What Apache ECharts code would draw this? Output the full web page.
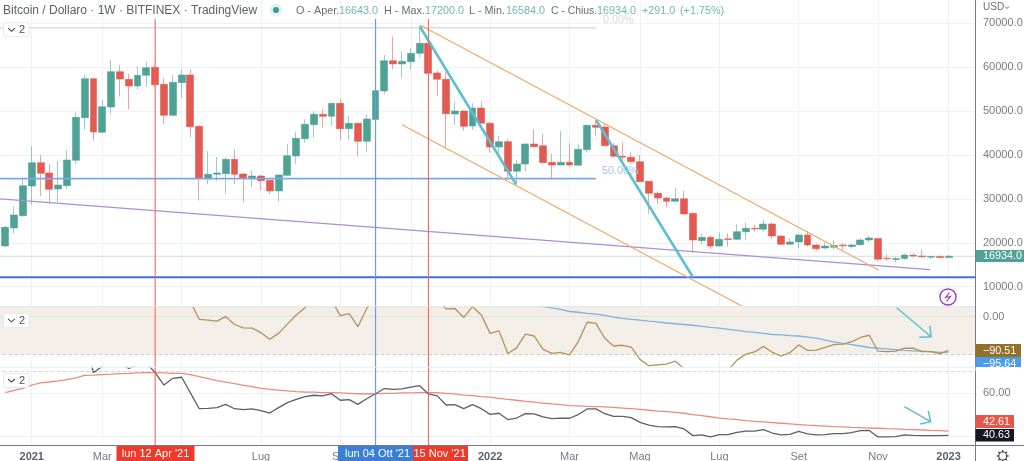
<!DOCTYPE html>
<html lang="it">
<head>
    <meta charset="UTF-8">
    <title>Bitcoin / Dollaro</title>
    <style>
        html, body { margin: 0; padding: 0; background: #fff; }
        #myChart { width: 1024px; height: 461px; }
    </style>
</head>
<body>
    <div id="myChart"></div>
</body>
<script src="https://cdn.jsdelivr.net/npm/echarts@6/dist/echarts.min.js"></script>
<script>
    // weekly candles, week 0 = 14 Dec 2020, week 107 = 2 Jan 2023
    const opens = [
      19271,23371,26181,32939,38254,35900,32255,33014,38785,48504,
      57388,45163,50934,58982,57236,55718,58147,59969,56100,49036,
      56480,58223,46530,34609,35596,35748,39013,35672,34685,35216,
      34228,31800,35368,39772,43720,46910,49264,48808,51770,45999,
      47214,43113,48100,54580,61489,60730,61260,63158,65436,58700,
      57236,49340,50024,46606,50706,47214,41822,43037,36278,37950,
      42506,42100,38330,37724,38330,37650,41200,46758,46360,42126,
      39700,39500,38480,34000,31270,30200,29450,30060,26712,20486,
      21245,19271,20900,20790,22536,23295,23100,24282,21549,19650,
      20183,21777,19500,18815,19000,19500,19150,19575,20638,21000,
      16500,16200,16400,17150,17000,16700,16900,16643];
    const closes = [
      23523,26333,33014,38254,35824,32180,33166,38860,48580,57388,
      45240,51010,58982,57312,55718,58147,59893,56022,49036,56553,
      58223,46454,34609,35596,35900,39013,35596,34685,35216,34153,
      31800,35444,39848,43796,46985,49264,48808,51770,45999,47214,
      43113,48200,54654,61489,60730,61337,63158,65436,58600,57236,
      49400,50024,46530,50706,47214,41822,43037,36278,37950,42506,
      41898,38254,37724,38330,37724,41291,46758,46302,42126,39697,
      39500,38480,33925,31270,30200,29450,30060,26560,20638,21245,
      19271,20790,20780,22536,23295,23150,24282,21549,19650,20183,
      21777,19500,18664,19271,19400,19300,19500,20638,21093,16234,
      16350,16400,17220,17000,16800,16900,16650,16934];
    const lows = [
      19100,22156,25953,28610,30660,28990,29218,32331,37950,45695,
      43265,45000,49400,53288,50403,54957,55566,55500,47062,48950,
      53060,44025,29598,33395,34153,31117,33395,29218,32787,32027,
      31117,29370,35200,37965,42810,43948,46302,46606,43400,43400,
      39697,40760,47900,53900,59513,57616,59513,62250,58500,53440,
      41640,46834,45545,45695,47100,40533,39963,34609,33200,36250,
      41800,38100,34685,37700,37350,37600,40533,44328,41900,39400,
      38725,37965,33800,26650,28830,28080,29200,26500,17750,19727,
      18664,19100,19120,20600,20638,22536,22536,20790,19500,19500,
      18740,19100,18200,18512,18450,18200,18700,19300,20183,15700,
      15850,15550,16100,16600,16550,16300,16450,16584];
    const highs = [
      23800,28232,34913,42050,40000,37950,38633,40988,49643,58223,
      57600,52528,61640,60500,58527,60120,61185,60100,57464,58223,
      59513,59513,46758,40911,39544,39393,41291,35800,36583,35450,
      34300,35500,42430,45163,48125,49871,50554,51900,52832,48883,
      47300,49264,55000,62780,66954,63540,64297,69386,65600,59210,
      58982,51998,50100,51770,52073,47594,44328,43568,38860,42600,
      45846,44782,40229,45467,42657,42430,46900,47974,47062,42700,
      42885,40533,40000,34100,31650,30500,32480,31800,26900,22005,
      21625,22384,22156,24207,24586,24055,25193,24735,21650,21017,
      21900,22764,19800,20030,20486,19850,19700,21017,21549,21100,
      17300,16800,17500,17600,18500,17000,17050,17200];

    // brown oscillator and its blue signal (first 60 weeks of the signal are off the pane)
    const oscBrown = [
      80,100,130,140,90,60,55,70,110,150,
      100,110,120,100,75,80,90,80,50,70,
      85,40,-7,-9,-12,0,-21,-30,-31,-43,
      -61,-45,-20,4.5,24,50,50,45,3,8,
      -27,22,54,80,90,85,80,72,63,45,
      21,22,-2,27,4.5,-45,-38,-99,-84,-47,
      -52,-88,-99,-96,-103,-67,-15,-18,-58,-79,
      -77,-82,-115,-132,-130,-128,-120,-140,-170,-157,
      -180,-166,-144,-117,-101,-95,-80,-96,-106,-97,
      -76,-91,-90,-83,-75,-74,-68,-56,-50,-93,
      -94,-93,-85,-85,-94,-94,-100,-90.51];
    const oscBlue = [
      32,28,24,20,14,12,9,7,3.6,-1,
      -4.5,-7,-9,-12,-14,-17,-19,-21,-23,-26,
      -29,-31,-34,-37,-40,-42,-45,-48,-49,-51,
      -52,-55,-58,-63,-68,-72,-75,-79,-83,-85,
      -87,-89,-91,-92,-93,-94,-96,-95.64];
    const oscBlueStart = 60;

    // lower pane
    const rsiBlack = [
      74,76,80,85,78,73,74,76,84,84,
      69.5,72.5,76,74,71.5,73,74,69.5,63.8,66.9,
      67.4,60.2,52.9,53.1,53.4,54.9,52.9,52.5,52.8,52,
      50.9,53.4,55.7,57.2,58.5,59.1,58.8,59.8,56.8,57.1,
      54.9,57.5,59.8,62.2,61.8,62,62.8,63.5,59.7,58.8,
      54.6,54.8,52.9,54.8,52.9,50.3,50.8,47.9,48.6,50.6,
      50.5,49.1,48.3,48.6,48.5,50.2,52.8,52.8,50.6,49.4,
      49.4,48.8,46.6,45.3,44.6,44.5,44.6,43.6,40.5,40.8,
      39.9,41,41,42,42.6,42.6,43.3,41.7,40.8,41.1,
      42.5,41.3,40.8,41,41.4,41.4,41.9,42.8,42.9,39.9,
      39.9,40,40.8,40.6,40.5,40.5,40.5,40.63];
    const rsiRed = [
      60.3,61.4,62.3,63.8,64.8,65.2,65.7,66.3,67.1,68.3,
      68.4,68.6,68.8,69.1,69.2,69.4,69.5,69.5,69.4,69.2,
      69.2,68.6,67.7,66.8,65.8,65.1,64.5,63.7,63.1,62.3,
      61.8,61.5,61.1,60.8,60.6,60.5,60.3,60.3,60.2,60,
      59.8,59.8,59.8,60,60,60.2,60.2,60.3,60.3,60.3,
      60,59.7,59.2,58.9,58.5,58.2,57.7,57.2,56.8,56.3,
      55.9,55.5,55.1,54.8,54.3,54.2,54,53.9,53.7,53.5,
      53.2,52.9,52.6,52.2,51.8,51.6,51.2,50.8,50.2,49.7,
      49.2,48.6,48.2,47.9,47.4,47.1,46.8,46.5,46.2,45.9,
      45.6,45.3,45.1,44.9,44.6,44.5,44.3,44.2,44,43.9,
      43.7,43.6,43.4,43.3,43.1,42.9,42.8,42.61];

    // time axis
    const tickWeeks = [3, 11, 20, 29, 38, 46, 55, 64, 72, 81, 90, 99, 107];
    const tickNames = ['2021','Mar','Mag','Lug','Set','Nov','2022','Mar','Mag','Lug','Set','Nov','2023'];
    const priceTicks = [10000, 20000, 30000, 40000, 50000, 60000, 70000];
    const oscTicks = [0];
    const rsiTicks = [40, 60];

    // drawings, [week, price]
    const thickA = [[47.04, 69226], [57.93, 33326]];
    const thickB = [[67.01, 47973], [78.01, 12141]];
    const channelUpper = [[47.04, 69613], [99.04, 13804]];
    const channelLower = [[45, 46902], [83.54, 5604]];
    const purpleLine = [[-1, 30050], [104.9, 13872]];
    const fibTop = [[-1, 69000], [67, 69000]];
    const fibMid = [[-1, 34600], [67, 34600]];
    const supportLine = [[-1, 12140], [110, 12140]];
    const lastLine = [[-1, 16934], [110, 16934]];
    const vlinesRed = [17, 48];
    const vlinesBlue = [42];

    const FONT = '"Liberation Sans", Arial, sans-serif';
    const GRID_C = '#eef2f6';
    const AXIS_C = '#787b86';
    const TEAL = '#5dbfd0';

    let categories = [];
    for (let i = -1; i <= 110; i++) categories.push(String(i));
    const isTick = (i) => tickWeeks.indexOf(i - 1) >= 0;

    const candleData = [['-', '-', '-', '-']].concat(opens.map((o, i) => [o, closes[i], lows[i], highs[i]]));
    const pad = (arr) => ['-'].concat(arr);
    let blueFull = pad(new Array(oscBlueStart).fill('-').concat(oscBlue));

    const leftPx = -3.515, rightPx = 49;
    const panes = [
      { top: 0, height: 306.7, min: 5444, max: 75308, ticks: priceTicks, fmt: (v) => v.toFixed(1) },
      { top: 306.7, height: 60.6, min: -136.4, max: 26.95, ticks: oscTicks, fmt: (v) => v.toFixed(2) },
      { top: 367.3, height: 78, min: 36.04, max: 71.98, ticks: rsiTicks, fmt: (v) => v.toFixed(2) }
    ];

    function gridLineSeries(idx, vals) {
      return {
        type: 'line', xAxisIndex: idx, yAxisIndex: idx, data: [], silent: true,
        markLine: {
          silent: true, symbol: 'none', z: 0, animation: false, label: { show: false },
          lineStyle: { color: GRID_C, width: 1, type: 'solid' },
          data: vals.map((v) => ({ yAxis: v }))
        }
      };
    }

    function drawLine(data, color, width, extra) {
      return Object.assign({
        type: 'line', xAxisIndex: 3, yAxisIndex: 0, data: data, symbol: 'none', silent: true, z: 6,
        lineStyle: { color: color, width: width }
      }, extra || {});
    }

    let option = {
      animation: false,
      backgroundColor: '#ffffff',
      textStyle: { fontFamily: FONT },
      grid: panes.map((p) => ({ left: leftPx, right: rightPx, top: p.top, height: p.height, outerBoundsMode: 'none' }))
        .concat([{ left: leftPx, right: rightPx, top: 19, height: 426.3, outerBoundsMode: 'none' }]),
      xAxis: panes.map((p, i) => ({
        type: 'category', gridIndex: i, data: categories, boundaryGap: false,
        axisLine: { show: false }, axisTick: { show: false },
        axisLabel: i < 2 ? { show: false } : {
          show: true, margin: 6, fontSize: 11, fontFamily: FONT, color: AXIS_C,
          interval: (index) => isTick(index),
          formatter: (v, index) => {
            const name = tickNames[tickWeeks.indexOf(index - 1)];
            return /^\d+$/.test(name) ? '{b|' + name + '}' : name;
          },
          rich: { b: { fontWeight: 'bold', fontSize: 11, color: '#5d606b', fontFamily: FONT } }
        },
        splitLine: { show: true, interval: (index) => isTick(index), lineStyle: { color: GRID_C, width: 1 } }
      })).concat([
        { type: 'value', gridIndex: 0, min: -1, max: 110, show: false, splitLine: { show: false } },
        { type: 'value', gridIndex: 3, min: -1, max: 110, show: false, splitLine: { show: false } }
      ]),
      yAxis: panes.map((p, i) => ({
        type: 'value', gridIndex: i, position: 'right', min: p.min, max: p.max, scale: true,
        axisLine: { show: true, onZero: false, lineStyle: { color: AXIS_C, width: 1 } },
        axisTick: { show: false }, splitLine: { show: false },
        axisLabel: {
          show: true, margin: 8, fontSize: 11, fontFamily: FONT, color: AXIS_C,
          customValues: p.ticks, formatter: p.fmt
        }
      })).concat([
        { type: 'value', gridIndex: 3, min: 0, max: 1, show: false, splitLine: { show: false } }
      ]),
      series: [
        gridLineSeries(0, priceTicks),
        {
          type: 'line', xAxisIndex: 1, yAxisIndex: 1, data: [], silent: true,
          markArea: {
            silent: true, z: 0, itemStyle: { color: '#f3efe8' },
            data: [[{ yAxis: -100 }, { yAxis: 26.95 }]]
          },
          markLine: {
            silent: true, symbol: 'none', z: 1, label: { show: false },
            lineStyle: { color: '#e4e1da', width: 1, type: 'solid' },
            data: [{ yAxis: 0 }]
          }
        },
        {
          type: 'line', xAxisIndex: 1, yAxisIndex: 1, data: [], silent: true,
          markLine: {
            silent: true, symbol: 'none', z: 1, label: { show: false },
            lineStyle: { color: '#cfcdc8', width: 1, type: 'dashed' },
            data: [{ yAxis: -100 }]
          }
        },
        gridLineSeries(2, rsiTicks),
        {
          type: 'line', xAxisIndex: 2, yAxisIndex: 2, data: [], silent: true,
          markLine: {
            silent: true, symbol: 'none', z: 1, label: { show: false },
            lineStyle: { color: '#d8d8d8', width: 1, type: 'dashed' },
            data: [{ yAxis: 70 }]
          }
        },
        drawLine(fibTop, '#dddee3', 1.5, { z: 1 }),
        drawLine(lastLine, '#8fc7bc', 1, { z: 1, lineStyle: { color: '#8fc7bc', width: 1, type: 'dotted' } }),
        {
          type: 'candlestick', xAxisIndex: 0, yAxisIndex: 0, data: candleData, barWidth: 7.4, z: 3, silent: true,
          itemStyle: {
            color: '#4fa295', color0: '#e25a50',
            borderColor: 'rgba(79,162,149,0.55)', borderColor0: 'rgba(226,90,80,0.55)', borderWidth: 1
          }
        },
        drawLine(purpleLine, '#a98fd8', 1.3),
        drawLine(fibMid, '#7aa6ee', 1.8),
        drawLine(supportLine, '#3f6fe3', 2),
        drawLine(channelUpper, '#f0aa66', 1.3),
        drawLine(channelLower, '#f0aa66', 1.3),
        drawLine(thickA, TEAL, 2.6),
        drawLine(thickB, TEAL, 2.6),
        {
          type: 'line', xAxisIndex: 1, yAxisIndex: 1, data: blueFull, symbol: 'none', silent: true, z: 4,
          lineStyle: { color: '#7fb2e0', width: 1.3 }, connectNulls: false
        },
        {
          type: 'line', xAxisIndex: 1, yAxisIndex: 1, data: pad(oscBrown), symbol: 'none', silent: true, z: 5,
          lineStyle: { color: '#b3925a', width: 1.3 }
        },
        {
          type: 'line', xAxisIndex: 2, yAxisIndex: 2, data: pad(rsiRed), symbol: 'none', silent: true, z: 4,
          lineStyle: { color: '#f08a80', width: 1.3 }
        },
        {
          type: 'line', xAxisIndex: 2, yAxisIndex: 2, data: pad(rsiBlack), symbol: 'none', silent: true, z: 5,
          lineStyle: { color: '#5c5f66', width: 1.3 }
        }
      ].concat(vlinesRed.map((w) => ({
        type: 'line', xAxisIndex: 4, yAxisIndex: 3, data: [[w, 0], [w, 1]], symbol: 'none', silent: true, z: 7,
        lineStyle: { color: '#ef6a60', width: 1.1 }
      }))).concat(vlinesBlue.map((w) => ({
        type: 'line', xAxisIndex: 4, yAxisIndex: 3, data: [[w, 0], [w, 1]], symbol: 'none', silent: true, z: 7,
        lineStyle: { color: '#6a9ae8', width: 1.2 }
      }))),
      graphic: { elements: buildOverlay() }
    };

    function txt(x, y, s, color, size, extra) {
      return {
        type: 'text', x: x, y: y, z: 110, silent: true,
        style: Object.assign({ text: s, fill: color, fontSize: size, fontFamily: FONT, textVerticalAlign: 'middle' }, extra || {})
      };
    }
    function box(x, y, w, h, fill, extra) {
      return Object.assign({ type: 'rect', z: 100, silent: true, shape: { x: x, y: y, width: w, height: h }, style: { fill: fill } }, extra || {});
    }
    function poly(points, color, width) {
      return { type: 'polyline', z: 100, silent: true, shape: { points: points }, style: { stroke: color, lineWidth: width, fill: null } };
    }
    function button(y) {
      return [
        { type: 'rect', z: 100, silent: true, shape: { x: 3.5, y: y, width: 25.5, height: 14, r: 2 }, style: { fill: '#fff', stroke: '#e6e8ee', lineWidth: 1 } },
        poly([[8, y + 5.5], [11.5, y + 8.5], [15, y + 5.5]], '#4a4d57', 1.1),
        txt(19, y + 7.5, '2', '#4a4d57', 11)
      ];
    }
    function gear(cx, cy) {
      let els = [{ type: 'circle', z: 100, silent: true, shape: { cx: cx, cy: cy, r: 4 }, style: { fill: null, stroke: '#4a4d57', lineWidth: 1.2 } }];
      for (let k = 0; k < 8; k++) {
        const a = k * Math.PI / 4;
        els.push(poly([[cx + 4 * Math.cos(a), cy + 4 * Math.sin(a)], [cx + 6 * Math.cos(a), cy + 6 * Math.sin(a)]], '#4a4d57', 1.4));
      }
      return els;
    }

    function buildOverlay() {
      const green = '#6fb9ac', grey = '#6a6d78';
      return [].concat(
        // pane separators
        [poly([[0, 306.7], [975, 306.7]], '#e4e3e1', 1),
         poly([[0, 367.3], [975, 367.3]], '#eceef2', 1)],
        // header
        [txt(3, 10.5, 'Bitcoin / Dollaro · 1W · BITFINEX · TradingView', '#5d606b', 12),
         { type: 'circle', z: 100, silent: true, shape: { cx: 276, cy: 10, r: 6.5 }, style: { fill: '#e6f2ef' } },
         { type: 'circle', z: 101, silent: true, shape: { cx: 276, cy: 10, r: 3 }, style: { fill: '#3f9c8b' } },
         txt(296, 11.5, 'O - Aper.', grey, 10.8), txt(339, 11.5, '16643.0', green, 10.8),
         txt(384, 11.5, 'H - Max.', grey, 10.8), txt(425, 11.5, '17200.0', green, 10.8),
         txt(469, 11.5, 'L - Min.', grey, 10.8), txt(506, 11.5, '16584.0', green, 10.8),
         txt(551, 11.5, 'C - Chius.', grey, 10.4), txt(597, 11.5, '16934.0', green, 10.8),
         txt(642, 11.5, '+291.0', green, 10.8), txt(680, 11.5, '(+1.75%)', green, 10.8),
         txt(983, 7.5, 'USD', grey, 10),
         poly([[1005, 6.5], [1007, 8.5], [1009, 6.5]], grey, 1),
         txt(603, 20.5, '0.00%', '#d8d9de', 10.8),
         txt(602, 171.5, '50.00%', '#a8c4f2', 10.8)],
        button(22.7), button(313.3), button(373.5),
        // price tags
        [box(975.5, 250, 48.5, 12, '#4fa295'), txt(983, 256.3, '16934.0', '#fff', 10.8),
         box(975.5, 344, 45.5, 13, '#93702a'), txt(983, 350.8, '−90.51', '#fff', 10.8),
         box(975.5, 357, 45.5, 10.3, '#4a9cec'), txt(983, 364, '−95.64', '#fff', 10.8),
         box(975.5, 367.3, 48, 4, '#fff', { z: 115 }),
         box(975.5, 415, 38.5, 13, '#e8564a'), txt(983, 421.8, '42.61', '#fff', 10.8),
         box(975.5, 429, 38.5, 12.5, '#131722'), txt(983, 435.5, '40.63', '#fff', 10.8)],
        // frame
        [poly([[0, 445.5], [1024, 445.5]], AXIS_C, 1),
         poly([[975.5, 445], [975.5, 461]], AXIS_C, 1)],
        // crosshair time labels
        [box(116.5, 446, 78, 15, '#ee3a2c'), txt(155.5, 454, "lun 12 Apr '21", '#fff', 11, { textAlign: 'center' }),
         box(338, 446, 75.5, 15, '#3a7fd5'), txt(345, 454, "lun 04 Ott '21", '#fff', 11),
         box(413, 446, 55, 15, '#ee3a2c'), txt(413.5, 454, "15 Nov '21", '#fff', 11)],
        // hand drawn arrows
        [poly([[896.7, 307.7], [931, 336.7]], TEAL, 1.5),
         poly([[919.3, 337.3], [931, 336.7], [930, 325.7]], TEAL, 1.5),
         poly([[904.3, 406.7], [930.7, 421.7]], TEAL, 1.5),
         poly([[920, 424], [930.7, 421.7], [928.3, 411]], TEAL, 1.5)],
        // replay badge and settings
        [{ type: 'circle', z: 100, silent: true, shape: { cx: 948, cy: 297, r: 8 }, style: { fill: '#fff', stroke: '#9c3fc0', lineWidth: 1.4 } },
         poly([[949.5, 292.5], [945.5, 297.5], [950.5, 296.5], [946.5, 301.5]], '#9c3fc0', 1.2)],
        gear(1002.7, 456)
      );
    }

    let chart = echarts.init(document.getElementById('myChart'), null, { renderer: 'canvas' });
    chart.setOption(option);
</script>
</html>
